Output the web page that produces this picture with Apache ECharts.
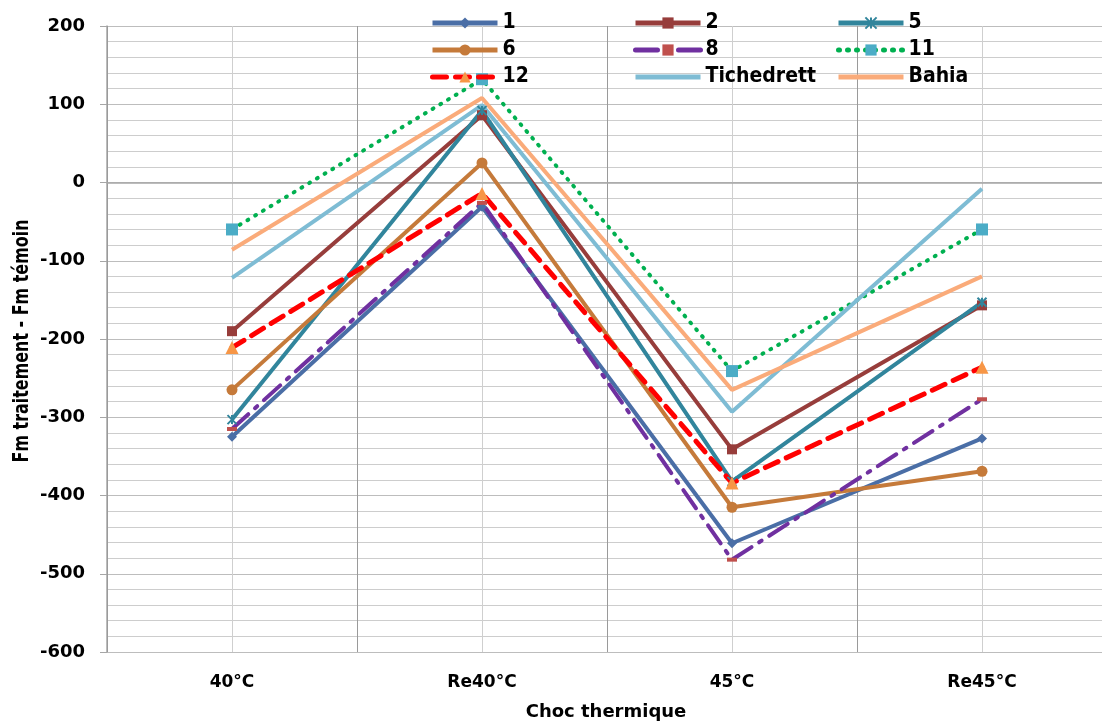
<!DOCTYPE html>
<html>
<head>
<meta charset="utf-8">
<script src="https://cdn.jsdelivr.net/npm/echarts@6/dist/echarts.min.js"></script>
<style>html,body{margin:0;padding:0;background:#fff;}#c{width:1102px;height:722px;}</style>
</head>
<body>
<div id="c"></div>
<script>
var categories = ['40°C', 'Re40°C', '45°C', 'Re45°C'];
var s1 = [-325, -31, -461, -327];
var s2 = [-190, 86, -341, -157];
var s5 = [-303, 92, -382, -153];
var s6 = [-265, 25, -415, -369];
var s8 = [-315, -26, -482, -277];
var s11 = [-60, 132, -241, -60];
var s12 = [-211, -14, -384, -236];
var sTiche = [-122, 99, -293, -8];
var sBahia = [-86, 108, -265, -120];
var yTicks = { min: -600, max: 200, step: 100 };
var xTitle = 'Choc thermique';
var yTitle = 'Fm traitement - Fm témoin';

var chart = echarts.init(document.getElementById('c'));
var narrow = '"DejaVu Sans Condensed", "Liberation Sans Narrow", sans-serif';
var wide = '"DejaVu Sans", Verdana, sans-serif';

function measure(text, font) {
  var cv = document.createElement('canvas').getContext('2d');
  cv.font = font;
  return cv.measureText(text).width;
}
var yTitleFont = 'bold 22px "DejaVu Sans Condensed", "DejaVu Sans", sans-serif';
var yTitleScale = 243 / measure(yTitle, yTitleFont);

function mk(name, data, color, opt) {
  var s = {
    name: name, type: 'line', data: data, xAxisIndex: 0, yAxisIndex: 0,
    lineStyle: { color: color, width: 4, type: opt.lineType || 'solid', cap: opt.cap || 'butt' },
    itemStyle: { color: opt.markColor || color },
    symbol: opt.symbol || 'none', symbolSize: opt.size || 10,
    emphasis: { disabled: true }, animation: false
  };
  if (opt.itemStyle) s.itemStyle = opt.itemStyle;
  if (opt.width) s.lineStyle.width = opt.width;
  return s;
}

var series = [
  mk('1', s1, '#4A6EA6', { symbol: 'diamond', size: 10 }),
  mk('2', s2, '#973D3B', { symbol: 'rect', size: 10 }),
  mk('5', s5, '#31859C', { symbol: 'path://M0,0L10,10M10,0L0,10M5,0L5,10', size: 9,
      itemStyle: { color: '#31859C', borderColor: '#31859C', borderWidth: 2 } }),
  mk('6', s6, '#C57A3A', { symbol: 'circle', size: 11 }),
  mk('8', s8, '#7030A0', { symbol: 'rect', size: [10, 4], markColor: '#C0504D', lineType: [22, 9, 3, 9], cap: 'round' }),
  mk('11', s11, '#00B050', { symbol: 'rect', size: 12, markColor: '#4BACC6', lineType: [1, 8], cap: 'round' }),
  mk('12', s12, '#FF0000', { symbol: 'triangle', size: 13, markColor: '#F79646', lineType: [14, 9], cap: 'round', width: 5 }),
  mk('Tichedrett', sTiche, '#7EBCD4', { symbol: 'none' }),
  mk('Bahia', sBahia, '#FAAB7A', { symbol: 'none' })
];

function legendCol(left, names) {
  return {
    orient: 'vertical', left: left, top: 12, padding: 0, itemWidth: 65, itemHeight: 14, itemGap: 5,
    data: names.map(function (n) {
      return (n === 'Tichedrett' || n === 'Bahia') ? { name: n, itemStyle: { opacity: 0 } } : n;
    }),
    selectedMode: false,
    lineStyle: { width: 5 },
    textStyle: { fontFamily: narrow, fontWeight: 'bold', fontSize: 21, lineHeight: 22, color: '#000' }
  };
}

chart.setOption({
  backgroundColor: '#fff',
  animation: false,
  grid: { left: 107, top: 26, width: 1000, height: 626, containLabel: false, outerBoundsMode: 'none' },
  legend: [
    legendCol(430, ['1', '6', '12']),
    legendCol(633, ['2', '8', 'Tichedrett']),
    legendCol(836, ['5', '11', 'Bahia'])
  ],
  graphic: [{
    type: 'text', x: 606, y: 712, silent: true,
    style: { text: xTitle, font: 'bold 18px "DejaVu Sans", sans-serif', fill: '#000', align: 'center', verticalAlign: 'middle' }
  }, {
    type: 'text', x: 22, y: 341, rotation: Math.PI / 2, scaleX: yTitleScale, scaleY: 1, silent: true,
    style: { text: yTitle, font: yTitleFont, fill: '#000', align: 'center', verticalAlign: 'middle' }
  }],
  xAxis: [{
    type: 'category', data: categories, boundaryGap: true,
    axisLine: { show: true, lineStyle: { color: '#a6a6a6', width: 1.5 } },
    axisTick: { show: false },
    splitLine: { show: true, lineStyle: { color: '#9a9a9a', width: 1 } },
    axisLabel: { fontFamily: wide, fontWeight: 'bold', fontSize: 17, color: '#000', margin: 22 },
    z: 3
  }, {
    type: 'value', min: 0, max: 8, interval: 1, position: 'bottom',
    axisLine: { show: false }, axisTick: { show: false }, axisLabel: { show: false },
    splitLine: { show: true, lineStyle: { color: '#cfcfcf', width: 1 } }, z: 1
  }],
  yAxis: {
    type: 'value', min: yTicks.min, max: yTicks.max, interval: yTicks.step,
    axisLine: { show: true, lineStyle: { color: '#a6a6a6', width: 1.5 } },
    axisTick: { show: true, inside: false, length: 7, lineStyle: { color: '#a6a6a6' } },
    minorTick: { show: false, splitNumber: 5 },
    splitLine: { show: true, lineStyle: { color: '#bdbdbd', width: 1 } },
    minorSplitLine: { show: true, lineStyle: { color: '#cdcdcd', width: 1 } },
    axisLabel: { fontFamily: wide, fontWeight: 'bold', fontSize: 18, color: '#000', margin: 22 }
  },
  series: series
});
</script>
</body>
</html>
